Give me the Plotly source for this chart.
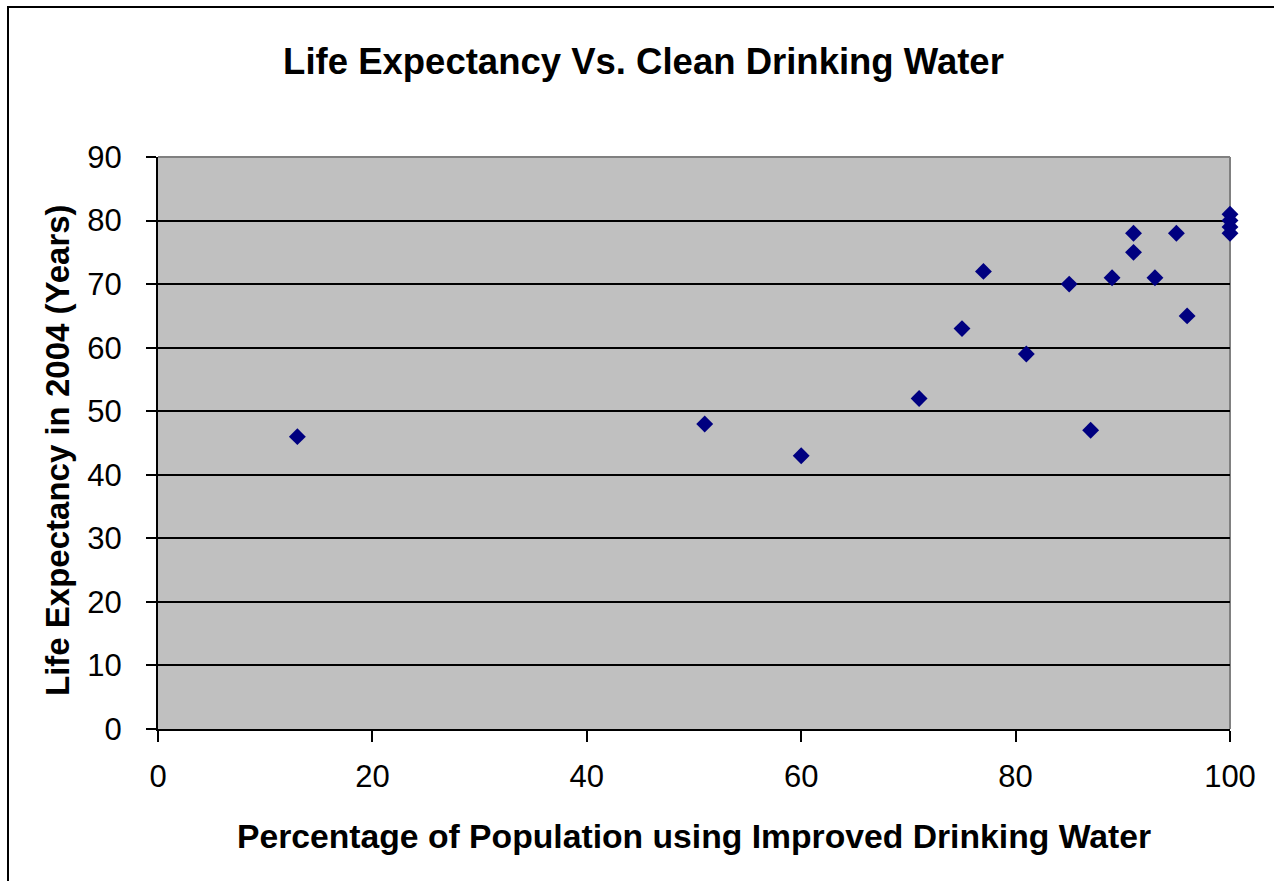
import plotly.graph_objects as go

# Data
water_pct = [13, 51, 60, 71, 75, 77, 81, 85, 87, 89, 91, 91, 93, 95, 96, 100, 100, 100, 100]
life_exp = [46, 48, 43, 52, 63, 72, 59, 70, 47, 71, 75, 78, 71, 78, 65, 81, 80, 79, 78]

x_ticks = [0, 20, 40, 60, 80, 100]
y_ticks = [0, 10, 20, 30, 40, 50, 60, 70, 80, 90]

FONT = "Liberation Sans, Arial, sans-serif"

fig = go.Figure()
fig.add_trace(go.Scatter(
    x=water_pct, y=life_exp, mode="markers",
    marker=dict(symbol="diamond", size=13, color="#000080",
                line=dict(width=0)),
    showlegend=False, cliponaxis=False,
))

fig.update_layout(
    width=1274, height=881,
    margin=dict(l=158, r=44, t=157, b=152, pad=0),
    paper_bgcolor="white",
    plot_bgcolor="#C0C0C0",
    font=dict(family=FONT, size=31, color="black"),
    title=dict(text="<b>Life Expectancy Vs. Clean Drinking Water</b>",
               font=dict(size=36.5, family=FONT, color="black"),
               x=643.5 / 1274, xref="container", xanchor="center",
               y=1 - 61 / 881, yref="container", yanchor="middle"),
    xaxis=dict(
        range=[0, 100], tickvals=x_ticks, ticks="outside", ticklen=11,
        tickwidth=2, tickcolor="black", showline=True, linecolor="black",
        linewidth=2, showgrid=False, zeroline=False,
        tickfont=dict(size=31, family=FONT), ticklabelstandoff=8,
        title=dict(text="<b>Percentage of Population using Improved Drinking Water</b>",
                   font=dict(size=33.7, family=FONT), standoff=31),
    ),
    yaxis=dict(
        range=[0, 90], tickvals=y_ticks, ticks="outside", ticklen=10,
        tickwidth=2, tickcolor="black", showline=True, linecolor="black",
        linewidth=2, showgrid=True, gridcolor="black", gridwidth=2,
        zeroline=False, tickfont=dict(size=31, family=FONT),
        ticklabelstandoff=18,
    ),
    annotations=[
        dict(text="<b>Life Expectancy in 2004 (Years)</b>",
             xref="paper", yref="paper",
             x=(57 - 158) / 1072, y=(729 - 450) / 572,
             xanchor="center", yanchor="middle", textangle=-90,
             showarrow=False, font=dict(size=33, family=FONT, color="black")),
    ],
    shapes=[
        # gray top and right border of plot area
        dict(type="line", xref="paper", yref="paper", x0=0, x1=1, y0=1, y1=1,
             line=dict(color="#808080", width=2), layer="above"),
        dict(type="line", xref="paper", yref="paper", x0=1, x1=1, y0=0, y1=1,
             line=dict(color="#808080", width=2), layer="below"),
        # outer chart frame
        dict(type="rect", xref="paper", yref="paper",
             x0=(8 - 158) / 1072, x1=(1300 - 158) / 1072,
             y0=(729 - 900) / 572, y1=(729 - 7) / 572,
             line=dict(color="black", width=2), fillcolor="rgba(0,0,0,0)"),
    ],
)

fig.write_html("out.html", config={"displayModeBar": False},
               post_script="document.body.style.margin='0';")
